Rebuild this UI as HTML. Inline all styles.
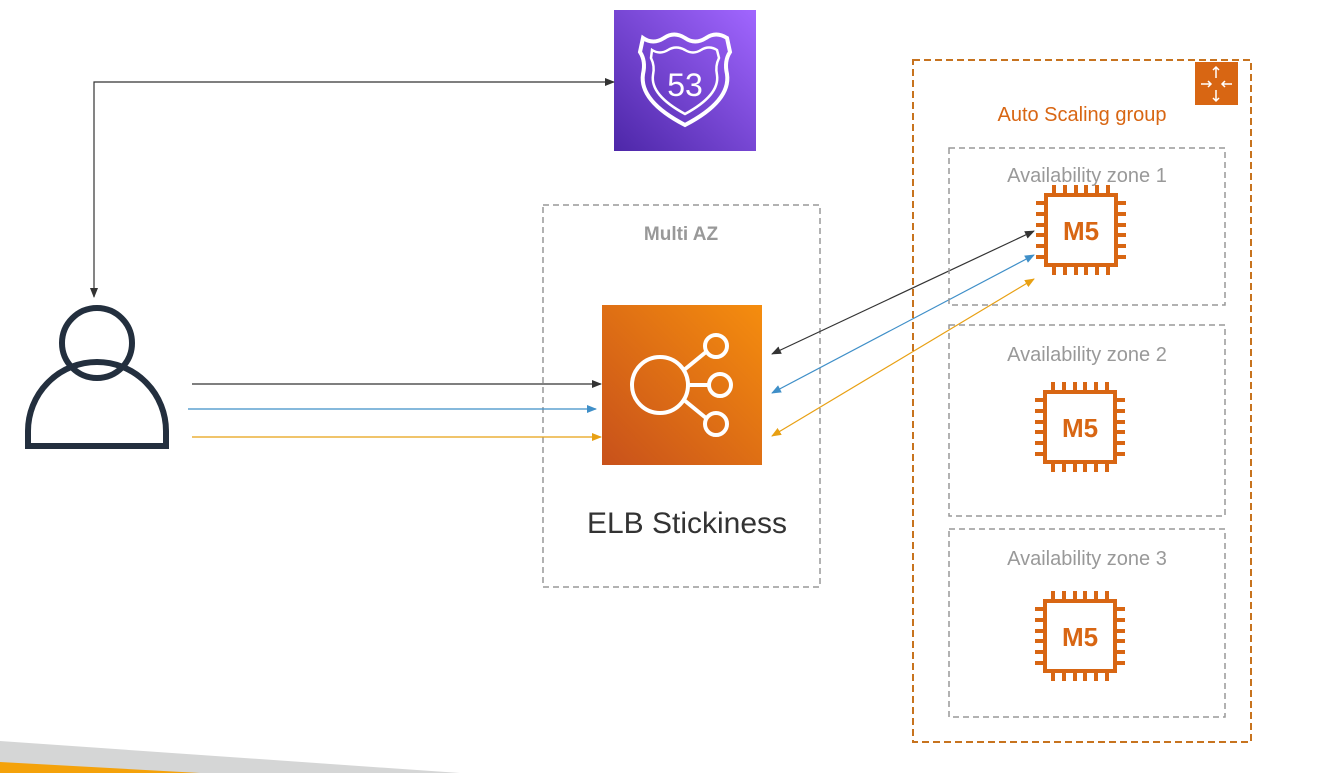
<!DOCTYPE html>
<html><head><style>body{margin:0;background:#fff}svg{display:block}text{font-family:"Liberation Sans",sans-serif}</style></head><body>
<svg width="1340" height="773" viewBox="0 0 1340 773" xmlns="http://www.w3.org/2000/svg">
<defs>
<linearGradient id="pg" x1="0" y1="1" x2="1" y2="0"><stop offset="0" stop-color="#4d27a8"/><stop offset="1" stop-color="#a166ff"/></linearGradient>
<linearGradient id="og" x1="0" y1="1" x2="1" y2="0"><stop offset="0" stop-color="#c8511b"/><stop offset="1" stop-color="#f58d0e"/></linearGradient>
<marker id="ak" markerWidth="10" markerHeight="8" refX="9" refY="4" orient="auto-start-reverse" markerUnits="userSpaceOnUse"><path d="M0,0L10,4L0,8z" fill="#333"/></marker>
<marker id="ab" markerWidth="10" markerHeight="8" refX="9" refY="4" orient="auto-start-reverse" markerUnits="userSpaceOnUse"><path d="M0,0L10,4L0,8z" fill="#3f8fc8"/></marker>
<marker id="ao" markerWidth="10" markerHeight="8" refX="9" refY="4" orient="auto-start-reverse" markerUnits="userSpaceOnUse"><path d="M0,0L10,4L0,8z" fill="#e8a013"/></marker>
<g id="chip" fill="none" stroke="#d86613" stroke-width="4">
<rect x="-35" y="-35" width="70" height="70"/>
<path d="M-27,-35v-10M-16,-35v-10M-5,-35v-10M5,-35v-10M16,-35v-10M27,-35v-10M-27,35v10M-16,35v10M-5,35v10M5,35v10M16,35v10M27,35v10M-35,-27h-10M-35,-16h-10M-35,-5h-10M-35,5h-10M-35,16h-10M-35,27h-10M35,-27h10M35,-16h10M35,-5h10M35,5h10M35,16h10M35,27h10"/>
</g>
</defs>
<polygon points="0,741 460,773 0,773" fill="#d5d6d6"/>
<polygon points="0,762 200,773 0,773" fill="#f4a20b"/>
<!-- Route53 -->
<rect x="614" y="10" width="142" height="141" fill="url(#pg)"/>
<path d="M643,38 q10,7 21,0 q10,-7 21,0 q10,7 21,0 q10,-7 21,0 l3,14 q-6,9 -3,22 q4,27 -42,51 q-46,-24 -42,-51 q3,-13 -3,-22z" fill="none" stroke="#fff" stroke-width="4"/>
<path d="M652,50 q8,5 16,0 q8,-5 17,0 q8,5 16,0 q8,-5 16,0 l2,8 q-4,8 -2,17 q3,20 -32,39 q-35,-19 -32,-39 q2,-9 -2,-17z" fill="none" stroke="#fff" stroke-width="2.5"/>
<text x="685" y="96" font-size="32" fill="#fff" text-anchor="middle">53</text>
<polyline points="94,297 94,82 614,82" fill="none" stroke="#333" stroke-width="1.2" marker-start="url(#ak)" marker-end="url(#ak)"/>
<!-- Multi AZ -->
<rect x="543" y="205" width="277" height="382" fill="none" stroke="#999" stroke-width="1.5" stroke-dasharray="6,4"/>
<text x="681" y="240" font-size="19" font-weight="bold" fill="#999" text-anchor="middle">Multi AZ</text>
<rect x="602" y="305" width="160" height="160" fill="url(#og)"/>
<g fill="none" stroke="#fff" stroke-width="4"><circle cx="660" cy="385" r="28"/><circle cx="716" cy="346" r="11"/><circle cx="720" cy="385" r="11"/><circle cx="716" cy="424" r="11"/><path d="M684,370L706,352M688,385H709M684,400L706,418"/></g>
<text x="687" y="533" font-size="30" fill="#333" text-anchor="middle">ELB Stickiness</text>
<!-- person -->
<g fill="none" stroke="#232f3e" stroke-width="6"><circle cx="97" cy="343" r="35"/><path d="M28,446 v-15 a69,69 0 0 1 138,0 v15z"/></g>
<line x1="192" y1="384" x2="601" y2="384" stroke="#333" stroke-width="1.2" marker-end="url(#ak)"/>
<line x1="188" y1="409" x2="596" y2="409" stroke="#3f8fc8" stroke-width="1.2" marker-end="url(#ab)"/>
<line x1="192" y1="437" x2="601" y2="437" stroke="#e8a013" stroke-width="1.2" marker-end="url(#ao)"/>
<line x1="772" y1="354" x2="1034" y2="231" stroke="#333" stroke-width="1.2" marker-start="url(#ak)" marker-end="url(#ak)"/>
<line x1="772" y1="393" x2="1034" y2="255" stroke="#3f8fc8" stroke-width="1.2" marker-start="url(#ab)" marker-end="url(#ab)"/>
<line x1="772" y1="436" x2="1034" y2="279" stroke="#e8a013" stroke-width="1.2" marker-start="url(#ao)" marker-end="url(#ao)"/>
<!-- ASG -->
<rect x="913" y="60" width="338" height="682" fill="none" stroke="#c7731f" stroke-width="2" stroke-dasharray="7,4"/>
<rect x="1195" y="62" width="43" height="43" fill="#d86613"/>
<g stroke="#fff" stroke-width="1.5" fill="none"><path d="M1216,67v11M1216,90v11M1201,84h10M1222,84h10M1213,70l3,-3l3,3M1213,98l3,3l3,-3M1208,81l3,3l-3,3M1225,81l-3,3l3,3"/></g>
<text x="1082" y="121" font-size="20" fill="#d86613" text-anchor="middle">Auto Scaling group</text>
<rect x="949" y="148" width="276" height="157" fill="none" stroke="#999" stroke-width="1.5" stroke-dasharray="6,4"/>
<rect x="949" y="325" width="276" height="191" fill="none" stroke="#999" stroke-width="1.5" stroke-dasharray="6,4"/>
<rect x="949" y="529" width="276" height="188" fill="none" stroke="#999" stroke-width="1.5" stroke-dasharray="6,4"/>
<text x="1087" y="182" font-size="20" fill="#999" text-anchor="middle">Availability zone 1</text>
<text x="1087" y="361" font-size="20" fill="#999" text-anchor="middle">Availability zone 2</text>
<text x="1087" y="565" font-size="20" fill="#999" text-anchor="middle">Availability zone 3</text>
<use href="#chip" x="1081" y="230"/><text x="1081" y="240" font-size="26" font-weight="bold" fill="#d86613" text-anchor="middle">M5</text>
<use href="#chip" x="1080" y="427"/><text x="1080" y="437" font-size="26" font-weight="bold" fill="#d86613" text-anchor="middle">M5</text>
<use href="#chip" x="1080" y="636"/><text x="1080" y="646" font-size="26" font-weight="bold" fill="#d86613" text-anchor="middle">M5</text>
</svg>
</body></html>
